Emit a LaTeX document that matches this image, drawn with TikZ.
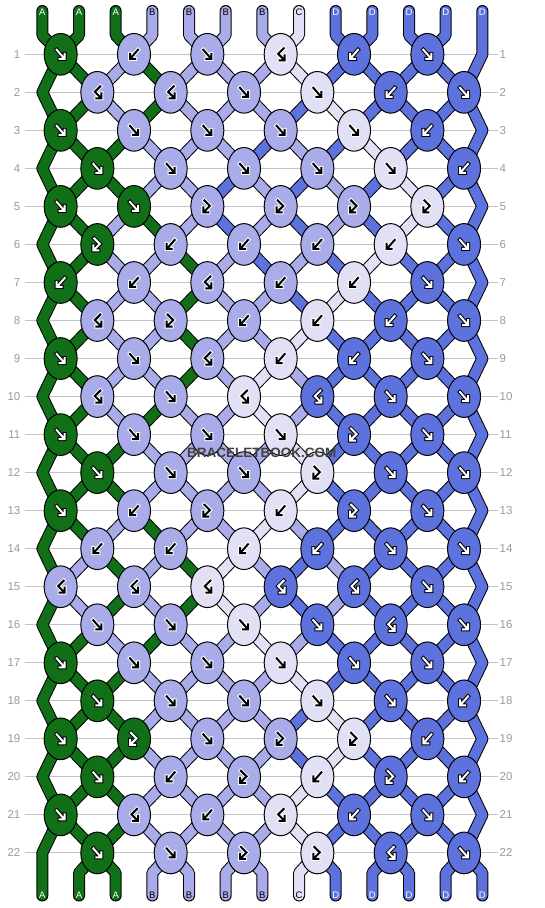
\documentclass[tikz,border=0pt]{standalone}
\usepackage{fontspec}
\setmainfont{Liberation Sans}
\usepackage{tikz}
\usetikzlibrary{shapes.geometric}

\definecolor{cA}{HTML}{117017}
\definecolor{cB}{HTML}{A9ACE8}
\definecolor{cC}{HTML}{E2E0F5}
\definecolor{cD}{HTML}{5E72DE}
\definecolor{rowgray}{HTML}{C4C4C4}
\definecolor{numgray}{HTML}{9A9A9A}
\colorlet{inkA}{white}\colorlet{rimA}{black}
\colorlet{inkB}{black}\colorlet{rimB}{white}
\colorlet{inkC}{black}\colorlet{rimC}{white}
\colorlet{inkD}{white}\colorlet{rimD}{black}

\newcommand{\glyf}{(-4,-4.5) -- (3.2,3.7) (4,-0.5) -- (4,4.5) -- (-1,4.5)}
\newcommand{\glyb}{(4,-4.5) -- (-3.2,3.7) (-4,-0.5) -- (-4,4.5) -- (1,4.5)}
\newcommand{\glyfb}{(-3,-6) -- (2.5,-0.5) -- (-3.3,5.3) (-4,1) -- (-4,6) -- (1,6)}
\newcommand{\glybf}{(3,-6) -- (-2.5,-0.5) -- (3.3,5.3) (4,1) -- (4,6) -- (-1,6)}

\tikzset{
  band/.style={line width=1pt, double=c#1, double distance=10pt,
               line cap=round, line join=round},
  knot/.style={ellipse, draw=black, line width=1pt, fill=c#1,
               minimum width=33pt, minimum height=41.7pt, inner sep=0pt},
  glyphrim/.style={draw=rim#1, line width=4pt, line cap=rect, line join=miter},
  glyph/.style={draw=ink#1, line width=2pt, line cap=rect, line join=miter},
  rowline/.style={draw=rowgray, line width=1pt},
  rownum/.style={text=numgray, font=\fontsize{11.5}{12}\selectfont, inner sep=0pt},
  strlab/.style={text=ink#1, font=\fontsize{9.5}{10}\selectfont, inner sep=0pt},
}

\begin{document}
\begin{tikzpicture}[x=1pt,y=-1pt]
\useasboundingbox (0,0) rectangle (544,908);

\foreach \r in {1,...,22}{
  \pgfmathsetmacro\ry{54.3+38.03*(\r-1)}
  \draw[rowline] (25,\ry) -- (498,\ry);
  \node[rownum,anchor=east] (nl-\r) at (20.5,\ry) {\r};
  \node[rownum,anchor=west] (nr-\r) at (499.5,\ry) {\r};
  \foreach \i in {1,...,13}{
    \pgfmathsetmacro\off{((\i==13 && mod(\r,2)==1) || (\i==1 && mod(\r,2)==0)) ? 0 : (mod(\i+\r,2)==0 ? 18.33 : -18.33)}
    \coordinate (p-\r-\i) at ({42.33+36.67*(\i-1)+\off},\ry);
  }
}
\foreach \i in {1,...,13}{
  \pgfmathsetmacro\sxv{42.33+36.67*(\i-1)}
  \coordinate (t-\i) at (\sxv,11);
  \coordinate (tb-\i) at (\sxv,35.3);
  \coordinate (bb-\i) at (\sxv,872.9);
  \coordinate (bt-\i) at (\sxv,895.5);
}

\draw[band=A] (t-1) -- (tb-1) \foreach \r in {1,...,22}{ -- (p-\r-1)} -- (bt-1);
\draw[band=D] (t-13) \foreach \r in {1,...,22}{ -- (p-\r-13)} -- (bb-13) -- (bt-13);

\foreach \b/\st in {
  1/{A,A,B,A,B,B,B,C,D,D,D,D,D},
  2/{A,A,B,A,B,B,B,D,C,D,D,D,D},
  3/{A,A,A,B,B,B,D,B,D,C,D,D,D},
  4/{A,A,A,B,B,D,B,D,B,D,C,D,D},
  5/{A,A,B,A,B,D,B,D,B,D,C,D,D},
  6/{A,A,B,B,A,B,D,B,D,C,D,D,D},
  7/{A,A,B,B,A,B,B,D,C,D,D,D,D},
  8/{A,A,B,B,A,B,B,C,D,D,D,D,D},
  9/{A,A,B,B,A,B,C,B,D,D,D,D,D},
  10/{A,A,B,A,B,B,C,B,D,D,D,D,D},
  11/{A,A,A,B,B,B,B,C,D,D,D,D,D},
  12/{A,A,A,B,B,B,B,C,D,D,D,D,D},
  13/{A,A,B,A,B,B,C,B,D,D,D,D,D},
  14/{A,B,A,B,A,C,B,D,B,D,D,D,D},
  15/{A,B,A,B,A,C,B,D,B,D,D,D,D},
  16/{A,A,B,A,B,B,C,B,D,D,D,D,D},
  17/{A,A,A,B,B,B,B,C,D,D,D,D,D},
  18/{A,A,A,B,B,B,B,D,C,D,D,D,D},
  19/{A,A,A,B,B,B,B,D,C,D,D,D,D},
  20/{A,A,A,B,B,B,B,C,D,D,D,D,D},
  21/{A,A,A,B,B,B,B,C,D,D,D,D,D}}{
  \pgfmathtruncatemacro\nb{\b+1}
  \foreach \c [count=\i] in \st {
    \ifnum\i>1\ifnum\i<13
      \draw[band=\c] (p-\b-\i) -- (p-\nb-\i);
    \fi\fi
  }
}

\foreach \c [count=\i] in {A,A,A,B,B,B,B,C,D,D,D,D,D}{
  \ifnum\i>1\ifnum\i<13
    \draw[band=\c] (t-\i) -- (tb-\i) -- (p-1-\i);
    \draw[band=\c] (p-22-\i) -- (bb-\i) -- (bt-\i);
  \fi\fi
  \node[strlab=\c] (top-\i) at ([yshift=-1.5pt]t-\i) {\c};
  \node[strlab=\c] (bot-\i) at ([yshift=0pt]bt-\i) {\c};
}

\foreach \r/\row in {
  1/{f/A,b/B,f/B,bf/C,b/D,f/D},
  2/{bf/B,bf/B,f/B,f/C,b/D,f/D},
  3/{f/A,f/B,f/B,f/B,f/C,b/D},
  4/{f/A,f/B,f/B,f/B,f/C,b/D},
  5/{f/A,f/A,fb/B,fb/B,fb/B,fb/C},
  6/{fb/A,b/B,b/B,b/B,b/C,f/D},
  7/{b/A,b/B,bf/B,b/B,b/C,f/D},
  8/{bf/B,fb/B,b/B,b/C,b/D,f/D},
  9/{f/A,f/B,bf/B,b/C,b/D,f/D},
  10/{bf/B,f/B,bf/C,bf/D,f/D,f/D},
  11/{f/A,f/B,f/B,f/C,fb/D,f/D},
  12/{f/A,f/B,f/B,fb/C,f/D,f/D},
  13/{f/A,b/B,fb/B,b/C,fb/D,f/D},
  14/{b/B,b/B,b/C,b/D,f/D,f/D},
  15/{bf/B,bf/B,bf/C,bf/D,bf/D,f/D},
  16/{f/B,f/B,f/C,f/D,bf/D,f/D},
  17/{f/A,f/B,f/B,f/C,f/D,f/D},
  18/{f/A,f/B,f/B,f/C,f/D,b/D},
  19/{f/A,fb/A,f/B,fb/B,fb/C,b/D},
  20/{f/A,b/B,fb/B,b/C,fb/D,b/D},
  21/{f/A,bf/B,b/B,bf/C,b/D,f/D},
  22/{f/A,f/B,fb/B,fb/C,bf/D,f/D}}{
  \foreach \t/\c [count=\k] in \row {
    \pgfmathtruncatemacro\li{mod(\r,2)==1 ? 2*\k-1 : 2*\k}
    \node[knot=\c] (k-\r-\k) at (p-\r-\li) {};
    \draw[glyphrim=\c, shift={(k-\r-\k.center)}] \csname gly\t\endcsname;
    \draw[glyph=\c, shift={(k-\r-\k.center)}] \csname gly\t\endcsname;
  }
}

\node[font=\bfseries\fontsize{13.5}{14}\selectfont, text=black!75, inner sep=0pt] (mark) at (261.7,453.3) {BRACELETBOOK.COM};
\end{tikzpicture}
\end{document}
